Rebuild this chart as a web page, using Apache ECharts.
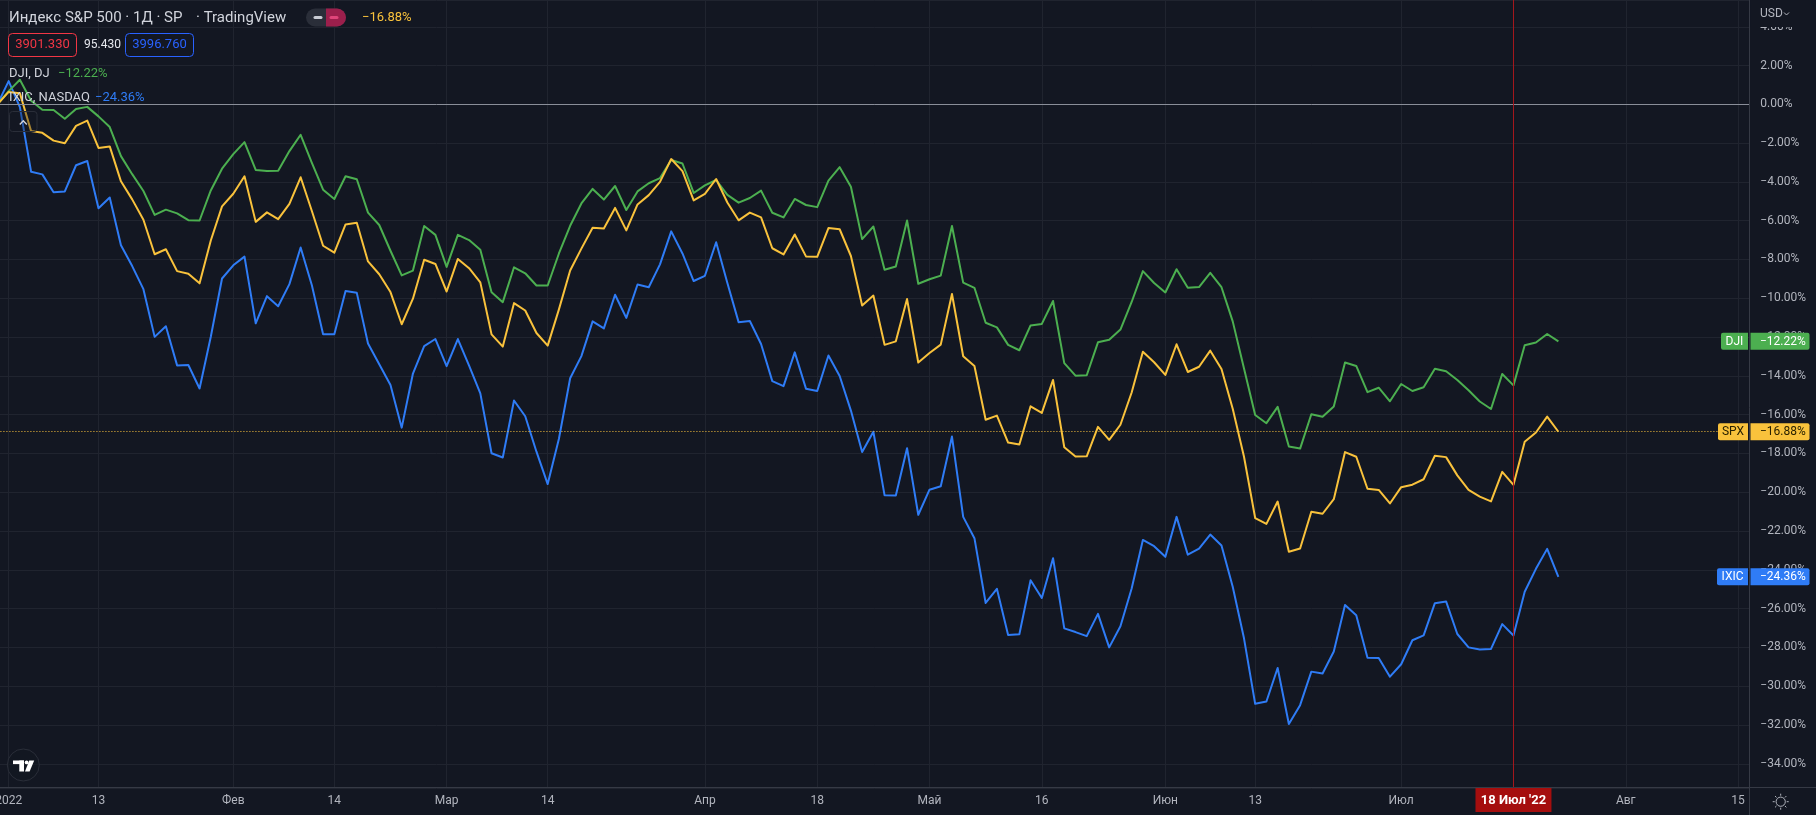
<!DOCTYPE html>
<html>
<head>
<meta charset="utf-8">
<script src="https://cdn.jsdelivr.net/npm/echarts@6/dist/echarts.min.js"></script>
<style>
html,body{margin:0;padding:0;background:#131722;overflow:hidden}
#c{width:1816px;height:815px}
</style>
</head>
<body>
<div id="c"></div>
<script>
// ---- trading days (categories), incl. empty future days on the right ----
const dates = [
'2021-12-31',
'2022-01-03','2022-01-04','2022-01-05','2022-01-06','2022-01-07','2022-01-10','2022-01-11','2022-01-12','2022-01-13','2022-01-14',
'2022-01-18','2022-01-19','2022-01-20','2022-01-21','2022-01-24','2022-01-25','2022-01-26','2022-01-27','2022-01-28','2022-01-31',
'2022-02-01','2022-02-02','2022-02-03','2022-02-04','2022-02-07','2022-02-08','2022-02-09','2022-02-10','2022-02-11','2022-02-14',
'2022-02-15','2022-02-16','2022-02-17','2022-02-18','2022-02-22','2022-02-23','2022-02-24','2022-02-25','2022-02-28',
'2022-03-01','2022-03-02','2022-03-03','2022-03-04','2022-03-07','2022-03-08','2022-03-09','2022-03-10','2022-03-11','2022-03-14',
'2022-03-15','2022-03-16','2022-03-17','2022-03-18','2022-03-21','2022-03-22','2022-03-23','2022-03-24','2022-03-25','2022-03-28',
'2022-03-29','2022-03-30','2022-03-31',
'2022-04-01','2022-04-04','2022-04-05','2022-04-06','2022-04-07','2022-04-08','2022-04-11','2022-04-12','2022-04-13','2022-04-14',
'2022-04-18','2022-04-19','2022-04-20','2022-04-21','2022-04-22','2022-04-25','2022-04-26','2022-04-27','2022-04-28','2022-04-29',
'2022-05-02','2022-05-03','2022-05-04','2022-05-05','2022-05-06','2022-05-09','2022-05-10','2022-05-11','2022-05-12','2022-05-13',
'2022-05-16','2022-05-17','2022-05-18','2022-05-19','2022-05-20','2022-05-23','2022-05-24','2022-05-25','2022-05-26','2022-05-27','2022-05-31',
'2022-06-01','2022-06-02','2022-06-03','2022-06-06','2022-06-07','2022-06-08','2022-06-09','2022-06-10','2022-06-13','2022-06-14',
'2022-06-15','2022-06-16','2022-06-17','2022-06-21','2022-06-22','2022-06-23','2022-06-24','2022-06-27','2022-06-28','2022-06-29','2022-06-30',
'2022-07-01','2022-07-05','2022-07-06','2022-07-07','2022-07-08','2022-07-11','2022-07-12','2022-07-13','2022-07-14','2022-07-15',
'2022-07-18','2022-07-19','2022-07-20','2022-07-21','2022-07-22','2022-07-25','2022-07-26','2022-07-27','2022-07-28','2022-07-29',
'2022-08-01','2022-08-02','2022-08-03','2022-08-04','2022-08-05','2022-08-08','2022-08-09','2022-08-10','2022-08-11','2022-08-12',
'2022-08-15','2022-08-16'
];

// ---- time-axis tick labels ----
const tickDates  = ['2022-01-03','2022-01-13','2022-02-01','2022-02-14','2022-03-01','2022-03-14','2022-04-01','2022-04-18','2022-05-02','2022-05-16','2022-06-01','2022-06-13','2022-07-01','2022-08-01','2022-08-15'];
const tickLabels = ['2022','13','Фев','14','Мар','14','Апр','18','Май','16','Июн','13','Июл','Авг','15'];

// ---- series, % change vs 2021-12-31 close ----
const spx = [0,
0.64,0.57,-1.38,-1.47,-1.87,-2.01,-1.11,-0.84,-2.25,-2.17,-3.97,-4.90,-5.95,-7.73,-7.47,-8.60,-8.73,-9.23,-7.02,-5.26,
-4.61,-3.71,-6.06,-5.57,-5.92,-5.13,-3.76,-5.50,-7.29,-7.65,-6.19,-6.11,-8.10,-8.76,-9.68,-11.34,-10.02,-8.01,-8.23,
-9.65,-7.97,-8.45,-9.18,-11.86,-12.49,-10.25,-10.63,-11.79,-12.44,-10.57,-8.57,-7.44,-6.36,-6.40,-5.34,-6.50,-5.16,-4.68,-4.00,-2.82,-3.44,-4.95,
-4.62,-3.85,-5.06,-5.98,-5.58,-5.83,-7.42,-7.74,-6.71,-7.84,-7.86,-6.38,-6.44,-7.82,-10.37,-9.86,-12.40,-12.22,-10.04,-13.31,
-12.82,-12.39,-9.78,-12.99,-13.49,-16.26,-16.05,-17.44,-17.54,-15.57,-15.91,-14.21,-17.68,-18.16,-18.15,-16.63,-17.30,-16.52,-14.86,-12.76,-13.30,
-13.95,-12.37,-13.80,-13.53,-12.70,-13.65,-15.70,-18.16,-21.33,-21.63,-20.48,-23.07,-22.90,-21.01,-21.11,-20.36,-17.93,-18.17,-19.82,-19.88,-20.58,
-19.74,-19.61,-19.33,-18.12,-18.19,-19.13,-19.88,-20.23,-20.47,-18.95,-19.62,-17.40,-16.92,-16.10,-16.88];

const dji = [0,
0.68,1.27,0.19,-0.28,-0.29,-0.74,-0.24,-0.13,-0.62,-1.17,-2.67,-3.60,-4.47,-5.70,-5.43,-5.62,-5.97,-5.99,-4.44,-3.32,
-2.57,-1.95,-3.38,-3.44,-3.43,-2.41,-1.57,-3.02,-4.40,-4.88,-3.71,-3.86,-5.58,-6.22,-7.55,-8.82,-8.57,-6.27,-6.73,
-8.38,-6.73,-7.00,-7.50,-9.69,-10.20,-8.40,-8.71,-9.34,-9.34,-7.69,-6.26,-5.11,-4.36,-4.91,-4.21,-5.45,-4.49,-4.07,-3.80,-2.87,-3.05,-4.57,
-4.18,-3.90,-4.67,-5.07,-4.83,-4.45,-5.59,-5.83,-4.88,-5.19,-5.30,-3.93,-3.24,-4.25,-6.95,-6.30,-8.53,-8.36,-5.99,-9.25,
-9.02,-8.83,-6.27,-9.19,-9.46,-11.26,-11.50,-12.40,-12.68,-11.40,-11.32,-10.14,-13.34,-13.99,-13.97,-12.27,-12.14,-11.61,-10.19,-8.60,-9.21,
-9.70,-8.50,-9.46,-9.42,-8.69,-9.43,-11.19,-13.61,-16.02,-16.44,-15.60,-17.64,-17.75,-15.98,-16.11,-15.58,-13.31,-13.49,-14.84,-14.61,-15.31,
-14.42,-14.78,-14.59,-13.63,-13.76,-14.21,-14.74,-15.32,-15.71,-13.90,-14.49,-12.42,-12.28,-11.84,-12.22];

const ixic = [0,
1.20,-0.14,-3.48,-3.61,-4.53,-4.49,-3.14,-2.92,-5.36,-4.80,-7.27,-8.34,-9.53,-11.99,-11.44,-13.46,-13.44,-14.65,-11.98,-8.98,
-8.30,-7.85,-11.29,-9.89,-10.41,-9.27,-7.38,-9.33,-11.85,-11.85,-9.62,-9.72,-12.33,-13.40,-14.47,-16.67,-13.88,-12.47,-12.10,
-13.50,-12.10,-13.47,-14.90,-17.99,-18.21,-15.27,-16.08,-17.91,-19.58,-17.24,-14.12,-12.98,-11.19,-11.55,-9.82,-11.01,-9.29,-9.43,-8.25,-6.55,-7.69,-9.11,
-8.84,-7.11,-9.21,-11.23,-11.17,-12.36,-14.27,-14.53,-12.79,-14.66,-14.78,-12.95,-14.01,-15.79,-17.93,-16.88,-20.16,-20.17,-17.73,-21.16,
-19.87,-19.69,-17.13,-21.27,-22.37,-25.71,-24.98,-27.36,-27.32,-24.54,-25.45,-23.40,-27.02,-27.21,-27.42,-26.27,-28.00,-26.91,-24.96,-22.46,-22.78,
-23.33,-21.27,-23.22,-22.91,-22.18,-22.75,-24.87,-27.52,-30.91,-30.79,-29.06,-31.95,-30.98,-29.25,-29.35,-28.21,-25.81,-26.34,-28.53,-28.55,-29.51,
-28.87,-27.63,-27.38,-25.72,-25.63,-27.31,-28.00,-28.11,-28.08,-26.80,-27.39,-25.13,-23.95,-22.92,-24.36];

// ---- header texts ----
const titleText = 'Индекс S&P 500 · 1Д · SP';
const sourceText = '· TradingView';
const boxValues = ['3901.330', '95.430', '3996.760'];
const compareNames = ['DJI, DJ', 'IXIC, NASDAQ'];
const crossDate = '2022-07-18';
const crossLabel = "18 Июл '22";

const C_SPX = '#f9c23c', C_DJI = '#4caf50', C_IXIC = '#2f7cf6';
const BG = '#131722', GRID = '#20242f', TXT = '#b2b5be', FONT = 'Roboto, "Noto Sans", sans-serif';

function pct(v) {
  const s = Math.abs(v).toFixed(2) + '%';
  return v < -1e-9 ? '\u2212' + s : s;
}
const last = a => a[a.length - 1];
const tickSet = {};
tickDates.forEach((d, i) => tickSet[d] = tickLabels[i]);

const chart = echarts.init(document.getElementById('c'), null, {renderer: 'canvas', width: 1816, height: 815});

const option = {
  backgroundColor: BG,
  animation: false,
  grid: {left: -2.57, right: 66.7, top: 0, bottom: 27, containLabel: false, outerBoundsMode: 'none'},
  xAxis: {
    type: 'category',
    data: dates,
    boundaryGap: false,
    axisLine: {show: false},
    axisTick: {show: false},
    axisLabel: {
      interval: (idx, val) => tickSet[val] !== undefined,
      formatter: (val) => tickSet[val] || '',
      alignMinLabel: 'center',
      color: TXT, fontSize: 12, fontFamily: FONT, margin: 7
    },
    splitLine: {
      show: true,
      interval: (idx, val) => tickSet[val] !== undefined,
      lineStyle: {color: GRID, width: 1}
    }
  },
  yAxis: {
    type: 'value',
    position: 'right',
    min: -35.25,
    max: 5.38,
    splitNumber: 20,
    minInterval: 2,
    maxInterval: 2,
    axisLine: {show: false},
    axisTick: {show: false},
    axisLabel: {
      showMinLabel: false, showMaxLabel: false,
      formatter: v => (Math.abs(v / 2 - Math.round(v / 2)) < 1e-6) ? pct(v) : '',
      color: TXT, fontSize: 12, fontFamily: FONT, margin: 11
    },
    splitLine: {show: true, lineStyle: {color: GRID, width: 1}}
  },
  series: [
    {name: 'IXIC', type: 'line', data: ixic, showSymbol: false, symbol: 'none', silent: true,
     lineStyle: {color: C_IXIC, width: 2, join: 'round'}, itemStyle: {color: C_IXIC}},
    {name: 'DJI', type: 'line', data: dji, showSymbol: false, symbol: 'none', silent: true,
     lineStyle: {color: C_DJI, width: 2, join: 'round'}, itemStyle: {color: C_DJI}},
    {name: 'SPX', type: 'line', data: spx, showSymbol: false, symbol: 'none', silent: true,
     lineStyle: {color: C_SPX, width: 2, join: 'round'}, itemStyle: {color: C_SPX},
     markLine: {
       silent: true, symbol: ['none', 'none'], animation: false, label: {show: false},
       data: [
         {yAxis: 0, lineStyle: {color: '#8a8e99', type: 'solid', width: 1}},
         {yAxis: last(spx), lineStyle: {color: C_SPX, type: [1, 2], width: 1}},
         {xAxis: crossDate, lineStyle: {color: '#a3171c', type: 'solid', width: 1}}
       ]
     }}
  ]
};
chart.setOption(option);

const yPx = v => chart.convertToPixel({yAxisIndex: 0}, v);
const xPx = d => chart.convertToPixel({xAxisIndex: 0}, d);

function txt(x, y, text, fill, size, align, weight) {
  return {type: 'text', z: 101, x: x, y: y, silent: true,
    style: {text: text, fill: fill, font: (weight || 'normal') + ' ' + size + 'px ' + FONT,
      textAlign: align || 'left', textVerticalAlign: 'middle', align: align || 'left', verticalAlign: 'middle'}};
}
function rect(x, y, w, h, r, fill, stroke) {
  return {type: 'rect', z: 100, silent: true, shape: {x: x, y: y, width: w, height: h, r: r},
    style: {fill: fill || 'none', stroke: stroke || null, lineWidth: 1}};
}
function line(x1, y1, x2, y2, stroke, w) {
  return {type: 'line', z: 100, silent: true, shape: {x1: x1, y1: y1, x2: x2, y2: y2},
    style: {stroke: stroke, lineWidth: w || 1}};
}

const G = [];
// frame lines of the price and time scales
G.push(line(1749.5, 0, 1749.5, 815, '#363a45'));
G.push(line(0, 787.5, 1816, 787.5, '#363a45'));

// header legend
G.push(txt(9, 18, titleText, '#d1d4dc', 15));
G.push(txt(196, 18, sourceText, '#d1d4dc', 15));
G.push(rect(306, 8.5, 40, 18, 9, '#2a2e39'));
G.push(rect(326, 8.5, 20, 18, [0, 9, 9, 0], '#9c1f4c'));
G.push({type: 'line', z: 101, silent: true, shape: {x1: 315, y1: 17.5, x2: 321, y2: 17.5}, style: {stroke: '#c9ccd4', lineWidth: 3, lineCap: 'round'}});
G.push({type: 'line', z: 101, silent: true, shape: {x1: 331, y1: 17.5, x2: 337, y2: 17.5}, style: {stroke: '#e0457a', lineWidth: 3, lineCap: 'round'}});
G.push(txt(362, 18, pct(last(spx)), C_SPX, 13));

G.push(rect(8.5, 33.5, 68, 23, 4, null, '#f23645'));
G.push(txt(42.5, 45, boxValues[0], '#f23645', 13, 'center'));
G.push(txt(84, 45, boxValues[1], '#e6e8ee', 12));
G.push(rect(125.5, 33.5, 68, 23, 4, null, '#2962ff'));
G.push(txt(159.5, 45, boxValues[2], '#2962ff', 13, 'center'));

G.push(txt(9, 73.5, compareNames[0], '#d1d4dc', 13));
G.push(txt(58, 73.5, pct(last(dji)), C_DJI, 13));
G.push(txt(9, 98, compareNames[1], '#d1d4dc', 13));
G.push(txt(95, 98, pct(last(ixic)), C_IXIC, 13));

// collapse button
G.push(rect(9.5, 111.5, 27.5, 20, 3, 'rgba(19,23,34,0.35)', '#2a2e39'));
G.push({type: 'polyline', z: 101, silent: true, shape: {points: [[19.8, 124.5], [23.3, 120.8], [26.8, 124.5]]},
  style: {stroke: '#d1d4dc', lineWidth: 1.4, fill: 'none'}});

// TradingView logo
G.push({type: 'circle', z: 100, silent: true, shape: {cx: 23.3, cy: 765, r: 16}, style: {fill: 'rgba(19,23,34,0.6)', stroke: '#2a2e39', lineWidth: 1}});
G.push(rect(13, 760.5, 11, 3.6, 0, '#ffffff'));
G.push(rect(19.3, 760.5, 4.7, 11, 0, '#ffffff'));
G.push({type: 'circle', z: 101, silent: true, shape: {cx: 26.6, cy: 762.4, r: 1.9}, style: {fill: '#ffffff'}});
G.push({type: 'polygon', z: 101, silent: true, shape: {points: [[29.2, 760.5], [34.2, 760.5], [29.6, 771.5], [25, 771.5]]}, style: {fill: '#ffffff'}});

// currency button over the top of the price scale
G.push(rect(1750.5, 0, 65.5, 27, 0, BG));
G.push(txt(1760, 14, 'USD', TXT, 12));
G.push({type: 'polyline', z: 101, silent: true, shape: {points: [[1784, 12.5], [1786.5, 15], [1789, 12.5]]},
  style: {stroke: TXT, lineWidth: 1, fill: 'none'}});

// settings icon
G.push({type: 'circle', z: 100, silent: true, shape: {cx: 1780.7, cy: 801.7, r: 4.6}, style: {fill: 'none', stroke: TXT, lineWidth: 1}});
for (let k = 0; k < 8; k++) {
  const a = k * Math.PI / 4;
  G.push(line(1780.7 + 6 * Math.cos(a), 801.7 + 6 * Math.sin(a), 1780.7 + 8 * Math.cos(a), 801.7 + 8 * Math.sin(a), TXT, 1));
}

// series tags on the price scale
function tag(name, value, color, textColor, nameW) {
  const y = yPx(value), h = 17;
  G.push(rect(1748 - nameW, y - h / 2, nameW, h, [2, 0, 0, 2], color));
  G.push(txt(1748 - nameW / 2, y + 0.5, name, textColor, 12, 'center'));
  G.push(rect(1750.5, y - h / 2, 59, h, [0, 2, 2, 0], color));
  G.push(txt(1760, y + 0.5, pct(value), textColor, 12));
}
tag('DJI', last(dji), C_DJI, '#ffffff', 27);
tag('SPX', last(spx), C_SPX, '#2a2200', 30);
tag('IXIC', last(ixic), C_IXIC, '#ffffff', 31);

// crosshair date label
const cx = xPx(crossDate);
G.push(rect(cx - 38, 788, 76, 24, 0, '#a50e0e'));
G.push(txt(cx, 800.5, crossLabel, '#ffffff', 13, 'center', 'bold'));

chart.setOption({graphic: {elements: G}});
</script>
</body>
</html>
